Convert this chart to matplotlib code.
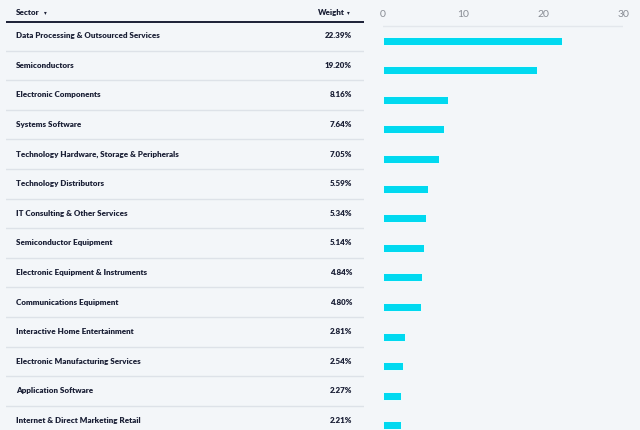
import matplotlib.pyplot as plt

sectors = [
    'Data Processing & Outsourced Services',
    'Semiconductors',
    'Electronic Components',
    'Systems Software',
    'Technology Hardware, Storage & Peripherals',
    'Technology Distributors',
    'IT Consulting & Other Services',
    'Semiconductor Equipment',
    'Electronic Equipment & Instruments',
    'Communications Equipment',
    'Interactive Home Entertainment',
    'Electronic Manufacturing Services',
    'Application Software',
    'Internet & Direct Marketing Retail',
]
weights = [22.39, 19.20, 8.16, 7.64, 7.05, 5.59, 5.34, 5.14, 4.84, 4.80,
           2.81, 2.54, 2.27, 2.21]
ticks = [0, 10, 20, 30]

bg = '#f3f6f9'
ink = '#1b2036'
bar_color = '#00d9f0'
fam = ['Lato', 'DejaVu Sans']
fs = 5.8

W, H = 640, 430
fig = plt.figure(figsize=(W / 100, H / 100), dpi=100, facecolor=bg)

# row i sits at pixel y = 34 + 29.6 * i
y_top = -34 / 29.6
y_bot = (H - 34) / 29.6

# table part
tab = fig.add_axes([6 / W, 0, (364 - 6) / W, 1])
tab.set_xlim(0, 358)
tab.set_ylim(y_bot, y_top)
tab.axis('off')
tab.text(10, -0.74, 'Sector', fontsize=fs, fontweight='heavy', color=ink,
         family=fam, va='center', ha='left')
tab.text(38, -0.74, '\u25be', fontsize=4, color=ink, family=fam, va='center')
tab.text(339, -0.74, 'Weight', fontsize=fs, fontweight='heavy', color=ink,
         family=fam, va='center', ha='right')
tab.text(341, -0.74, '\u25be', fontsize=4, color=ink, family=fam, va='center')
tab.axhline(-0.41, color=ink, lw=1.4)
for i, (s, w) in enumerate(zip(sectors, weights)):
    tab.text(10, i + 0.06, s, fontsize=fs, fontweight='heavy', color=ink,
             family=fam, va='center', ha='left')
    tab.text(346, i + 0.06, f'{w:.2f}%', fontsize=fs, fontweight='heavy',
             color=ink, family=fam, va='center', ha='right')
    tab.axhline(i + 0.56, color='#dde2e8', lw=1.0)

# bar part
ax = fig.add_axes([383 / W, 0, (623 - 383) / W, 1], facecolor='none')
ax.set_xlim(0, 30)
ax.set_ylim(y_bot, y_top)
ys = [i + 0.22 for i in range(len(weights))]
ax.barh(ys, weights, height=0.27, color=bar_color, edgecolor='white', lw=0.6)
for t in ticks:
    ax.text(t, -0.66, str(t), fontsize=7.5, color='#888c94', ha='center',
            va='center', family=fam)
ax.axhline(-0.27, color='#e3e7ec', lw=1.0)
ax.axis('off')

fig.savefig('out.png', dpi=100, facecolor=bg)
